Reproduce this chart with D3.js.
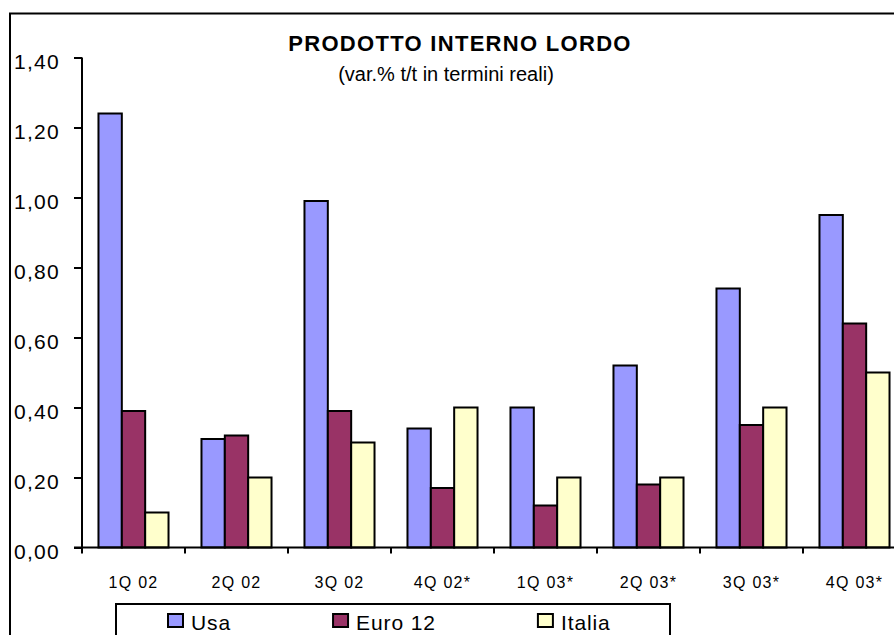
<!DOCTYPE html>
<html>
<head>
<meta charset="utf-8">
<script src="https://cdn.jsdelivr.net/npm/d3@7/dist/d3.min.js"></script>
<style>
  html, body { margin: 0; padding: 0; background: #fff; }
  svg { display: block; }
  text { font-family: "Liberation Sans", Arial, sans-serif; fill: #000; }
</style>
</head>
<body>
<svg id="chart" width="894" height="635"></svg>
<script>
// ---- data ----
const categories = ["1Q 02", "2Q 02", "3Q 02", "4Q 02*", "1Q 03*", "2Q 03*", "3Q 03*", "4Q 03*"];
const seriesNames = ["Usa", "Euro 12", "Italia"];
const usa    = [1.24, 0.31, 0.99, 0.34, 0.40, 0.52, 0.74, 0.95];
const euro12 = [0.39, 0.32, 0.39, 0.17, 0.12, 0.18, 0.35, 0.64];
const italia = [0.10, 0.20, 0.30, 0.40, 0.20, 0.20, 0.40, 0.50];
const yTicks = [0, 0.2, 0.4, 0.6, 0.8, 1.0, 1.2, 1.4];
const title = "PRODOTTO INTERNO LORDO";
const subtitle = "(var.% t/t in termini reali)";
const colors = ["#9999FF", "#993366", "#FFFFCC"];

const seriesValues = [usa, euro12, italia];

const svg = d3.select("#chart");

// outer chart border (extends beyond the visible area)
svg.append("rect")
  .attr("x", 10).attr("y", 13.5)
  .attr("width", 1000).attr("height", 1000)
  .attr("fill", "#fff").attr("stroke", "#000").attr("stroke-width", 2);

// scales
const x0 = d3.scaleBand().domain(categories).range([82, 906]).paddingInner(0.32).paddingOuter(0.16);
const x1 = d3.scaleBand().domain(seriesNames).range([0, x0.bandwidth()]);
const y = d3.scaleLinear().domain([0, 1.4]).range([547.5, 57.5]);

// title
svg.append("text")
  .attr("x", 460).attr("y", 51)
  .attr("text-anchor", "middle")
  .attr("font-size", 22).attr("font-weight", "bold")
  .attr("letter-spacing", 1.3)
  .text(title);
svg.append("text")
  .attr("x", 446).attr("y", 81)
  .attr("text-anchor", "middle")
  .attr("font-size", 20)
  .text(subtitle);

// bars
const groups = svg.append("g").selectAll("g")
  .data(categories)
  .join("g")
  .attr("transform", d => `translate(${x0(d)},0)`);

groups.selectAll("rect")
  .data((d, i) => seriesNames.map((s, j) => ({ s, j, v: seriesValues[j][i] })))
  .join("rect")
  .attr("x", d => x1(d.s))
  .attr("y", d => y(d.v))
  .attr("width", x1.bandwidth())
  .attr("height", d => y(0) - y(d.v))
  .attr("fill", d => colors[d.j])
  .attr("stroke", "#000")
  .attr("stroke-width", 2);

// y axis
const yAxis = d3.axisLeft(y)
  .tickValues(yTicks)
  .tickSize(8)
  .tickPadding(14)
  .tickFormat(d => d3.format(".2f")(d).replace(".", ","));
const gy = svg.append("g").attr("transform", "translate(82,0)").call(yAxis);
gy.select(".domain").attr("stroke", "#000").attr("stroke-width", 2).attr("d", `M0,${y(1.4)}V${y(0)}`);
gy.selectAll(".tick line").attr("stroke", "#000").attr("stroke-width", 2);
gy.selectAll(".tick text")
  .attr("font-family", "Liberation Sans, Arial, sans-serif")
  .attr("font-size", 21)
  .attr("letter-spacing", 1.3)
  .attr("dy", "0.72em")
  .attr("y", -4)
  .attr("fill", "#000");

// x axis
const boundaries = categories.map(c => x0(c) - x0.step() * x0.paddingInner() / 2).concat([906]);
const gx = svg.append("g");
gx.append("line")
  .attr("x1", 74).attr("x2", 900)
  .attr("y1", y(0)).attr("y2", y(0))
  .attr("stroke", "#000").attr("stroke-width", 2);
gx.selectAll("line.tk")
  .data(boundaries)
  .join("line")
  .attr("class", "tk")
  .attr("x1", d => d).attr("x2", d => d)
  .attr("y1", y(0)).attr("y2", y(0) + 6)
  .attr("stroke", "#000").attr("stroke-width", 2);
gx.selectAll("text")
  .data(categories)
  .join("text")
  .attr("x", d => x0(d) + x0.bandwidth() / 2)
  .attr("y", 588)
  .attr("text-anchor", "middle")
  .attr("font-size", 16)
  .attr("letter-spacing", 1.3)
  .text(d => d);

// legend
const lg = svg.append("g");
lg.append("rect")
  .attr("x", 116).attr("y", 604)
  .attr("width", 554).attr("height", 100)
  .attr("fill", "#fff").attr("stroke", "#000").attr("stroke-width", 2);
let lx = 168;
seriesNames.forEach((s, j) => {
  lg.append("rect")
    .attr("x", lx).attr("y", 614)
    .attr("width", 15).attr("height", 13)
    .attr("fill", colors[j]).attr("stroke", "#000").attr("stroke-width", 2);
  const t = lg.append("text")
    .attr("x", lx + 23).attr("y", 630)
    .attr("font-size", 21)
    .attr("letter-spacing", 0.9)
    .text(s);
  lx += t.node().getComputedTextLength() + 125;
});
</script>
</body>
</html>
